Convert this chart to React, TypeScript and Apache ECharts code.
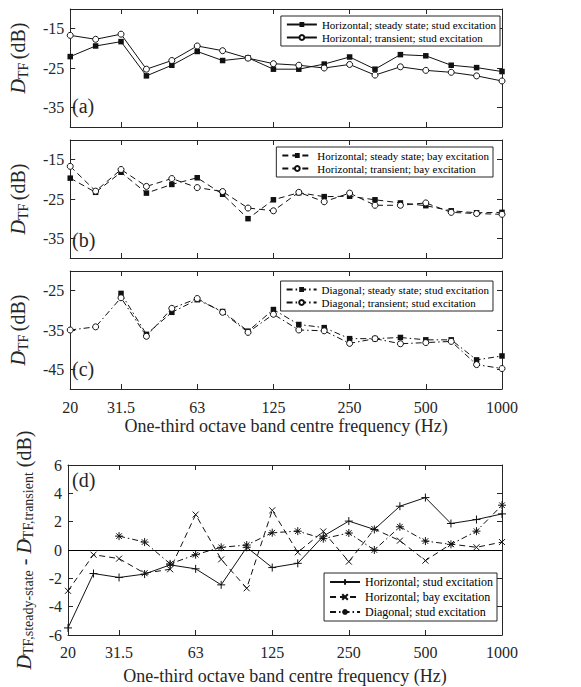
import React, { useEffect, useRef } from 'react';
import * as echarts from 'echarts';

// One-third octave band centre frequencies (Hz)
const freqs = ['20', '25', '31.5', '40', '50', '63', '80', '100', '125', '160', '200', '250', '315', '400', '500', '630', '800', '1000'];
const labelFreqs = ['20', '31.5', '63', '125', '250', '500', '1000'];

// (a) Horizontal, stud excitation
const aSteady = [-22.1, -19.4, -18.3, -27.0, -24.3, -20.8, -23.1, -22.4, -25.3, -25.3, -24.0, -22.2, -25.3, -21.6, -21.9, -24.3, -24.9, -25.9];
const aTransient = [-16.7, -17.7, -16.4, -25.3, -23.1, -19.4, -20.6, -22.5, -23.9, -24.3, -25.0, -24.1, -26.8, -24.7, -25.6, -26.1, -27.0, -28.3];

// (b) Horizontal, bay excitation
const bSteady = [-19.7, -23.3, -18.2, -23.5, -21.3, -19.6, -23.8, -30.0, -25.2, -23.4, -24.4, -24.3, -25.2, -26.0, -26.7, -28.0, -28.5, -28.4];
const bTransient = [-16.7, -23.0, -17.5, -21.8, -19.8, -22.1, -23.1, -27.3, -28.0, -23.3, -25.7, -23.5, -26.6, -26.6, -26.0, -28.4, -28.7, -28.9];

// (c) Diagonal, stud excitation
const cSteady = [null, null, -25.7, -36.1, -30.5, -27.3, -30.3, -35.3, -29.8, -33.6, -34.4, -37.2, -37.2, -36.9, -37.5, -37.5, -42.6, -41.6];
const cTransient = [-35.0, -34.2, -26.8, -36.6, -29.5, -27.0, -30.5, -35.6, -31.0, -35.0, -35.2, -38.4, -37.2, -38.5, -38.2, -37.9, -43.8, -44.8];

// (d) Differences steady-state minus transient
const dHorizStud = [-5.5, -1.66, -1.94, -1.7, -1.05, -1.33, -2.46, 0.19, -1.24, -0.94, 0.98, 2.04, 1.45, 3.09, 3.7, 1.87, 2.15, 2.55];
const dHorizBay = [-2.88, -0.33, -0.61, -1.64, -1.36, 2.5, -0.66, -2.7, 2.8, -0.16, 1.31, -0.82, 1.48, 0.66, -0.75, 0.42, 0.19, 0.56];
const dDiagStud = [null, null, 0.98, 0.56, -0.98, -0.33, 0.19, 0.35, 1.22, 1.33, 0.8, 1.2, 0.0, 1.64, 0.63, 0.4, 1.33, 3.16];

const dbTicksAB = [-35, -25, -15];
const dbTicksC = [-45, -35, -25];
const diffTicks = [-6, -4, -2, 0, 2, 4, 6];

const FONT = 'Liberation Serif';
const AX = '#262626';
const LINE = '#111';

const GRIDS = [
  { left: 68, top: 9, width: 434, height: 118 },
  { left: 68, top: 140, width: 434, height: 118 },
  { left: 68, top: 271, width: 434, height: 118 },
  { left: 68, top: 465, width: 434, height: 170 },
];

const showIdx = (i: number) => labelFreqs.includes(freqs[i]);

const XNAME = 'One-third octave band centre frequency (Hz)';

function xAxes(gi: number, showLabels: boolean, nameGap: number, margin: number) {
  const common = {
    type: 'category',
    gridIndex: gi,
    data: freqs,
    boundaryGap: false,
    axisLine: { show: true, onZero: false, lineStyle: { color: AX, width: 1 } },
    axisTick: { show: true, inside: true, length: 5, interval: (i: number) => showIdx(i), lineStyle: { color: AX } },
    splitLine: { show: false },
  };
  return [
    {
      ...common,
      position: 'bottom',
      axisLabel: {
        show: showLabels,
        interval: (i: number) => showIdx(i),
        color: AX,
        fontFamily: FONT,
        fontSize: 16,
        margin,
      },
      name: showLabels ? XNAME : '',
      nameLocation: 'middle',
      nameGap,
      nameTextStyle: { fontFamily: FONT, fontSize: 18, color: AX },
    },
    { ...common, position: 'top', axisLabel: { show: false } },
  ];
}

const richName = {
  d: { fontFamily: FONT, fontSize: 20, fontStyle: 'italic', color: AX, lineHeight: 20, padding: [0, 0, 4, 0] },
  s: { fontFamily: FONT, fontSize: 14, color: AX, lineHeight: 14, verticalAlign: 'bottom' },
  n: { fontFamily: FONT, fontSize: 20, color: AX, lineHeight: 20, padding: [0, 0, 4, 0] },
};

function yAxes(gi: number, min: number, max: number, ticks: number[], name: string, nameGap: number, shiftUp = 0) {
  const common = {
    type: 'value',
    gridIndex: gi,
    min,
    max,
    splitLine: { show: false },
    axisLine: { show: true, onZero: false, lineStyle: { color: AX, width: 1 } },
    axisTick: { show: true, inside: true, length: 5, customValues: ticks, lineStyle: { color: AX } },
  };
  return [
    {
      ...common,
      position: 'left',
      axisLabel: { customValues: ticks, color: AX, fontFamily: FONT, fontSize: 16, margin: 6 },
      name,
      nameLocation: 'middle',
      nameRotate: 90,
      nameGap,
      nameTextStyle: { rich: richName, padding: [0, 0, 0, shiftUp * 2] },
    },
    { ...common, position: 'right', axisLabel: { show: false } },
  ];
}

const SQ = { symbol: 'rect', symbolSize: 5.5, itemStyle: { color: LINE } };
const CI = { symbol: 'circle', symbolSize: 6, itemStyle: { color: '#fff', borderColor: LINE, borderWidth: 1 } };
const PLUS = 'path://M0 5L10 5M5 0L5 10';
const CROSS = 'path://M0 0L10 10M0 10L10 0';
const STAR = 'path://M0 5L10 5M5 0L5 10M1.5 1.5L8.5 8.5M1.5 8.5L8.5 1.5';
const strokeSym = { color: 'none', borderColor: LINE, borderWidth: 1 };

const DASH = [6, 4];
const DASHDOT = [6, 3, 1.5, 3];

function lineSeries(name: string, data: (number | null)[], gi: number, lineType: any, sym: any, extra: any = {}) {
  return {
    type: 'line',
    name,
    data,
    xAxisIndex: gi * 2,
    yAxisIndex: gi * 2,
    lineStyle: { color: LINE, width: 1, type: lineType },
    connectNulls: false,
    ...sym,
    ...extra,
  };
}

const legendCommon = {
  orient: 'vertical',
  backgroundColor: '#fff',
  borderColor: AX,
  borderWidth: 1,
  borderRadius: 0,
  padding: [3, 4, 3, 5],
  itemGap: 2,
  itemWidth: 30,
  itemHeight: 6,
  selectedMode: false,
  textStyle: { fontFamily: FONT, fontSize: 11, color: '#000' },
};

const N_A = ['Horizontal; steady state; stud excitation', 'Horizontal; transient; stud excitation'];
const N_B = ['Horizontal; steady state; bay excitation', 'Horizontal; transient; bay excitation'];
const N_C = ['Diagonal; steady state; stud excitation', 'Diagonal; transient; stud excitation'];
const N_D = ['Horizontal; stud excitation', 'Horizontal; bay excitation', 'Diagonal; stud excitation'];

export default function App() {
  const ref = useRef<HTMLDivElement>(null);
  useEffect(() => {
    if (!ref.current) return;
    const chart = echarts.init(ref.current, null, { renderer: 'svg' });
    const yName = '{d|D}{s|TF} {n|(dB)}';
    const yNameD = '{d|D}{s|TF,steady-state}{n| - }{d|D}{s|TF,transient}{n| (dB)}';
    const panelLabel = (text: string, top: number) => ({
      type: 'text',
      left: 72,
      top,
      style: { text, fontFamily: FONT, fontSize: 20, fill: AX },
    });
    const option: any = {
      animation: false,
      backgroundColor: '#fff',
      grid: GRIDS.map((g) => ({ ...g, show: false })),
      xAxis: [
        ...xAxes(0, false, 0, 10),
        ...xAxes(1, false, 0, 10),
        ...xAxes(2, true, 28, 10),
        ...xAxes(3, true, 32, 9),
      ],
      yAxis: [
        ...yAxes(0, -40, -10, dbTicksAB, yName, 28, 10),
        ...yAxes(1, -40, -10, dbTicksAB, yName, 28),
        ...yAxes(2, -50, -20, dbTicksC, yName, 28),
        ...yAxes(3, -6, 6, diffTicks, yNameD, 26),
      ],
      legend: [
        { ...legendCommon, data: N_A, right: 81, top: 16 },
        { ...legendCommon, data: N_B, right: 88, top: 147 },
        { ...legendCommon, data: N_C, right: 88, top: 281 },
        { ...legendCommon, data: N_D, right: 84, top: 573, itemGap: 3, itemHeight: 7, textStyle: { fontFamily: FONT, fontSize: 12, color: '#000' } },
      ],
      graphic: [
        panelLabel('(a)', 96),
        panelLabel('(b)', 230),
        panelLabel('(c)', 359),
        panelLabel('(d)', 470),
      ],
      series: [
        lineSeries(N_A[0], aSteady, 0, 'solid', SQ),
        lineSeries(N_A[1], aTransient, 0, 'solid', CI),
        lineSeries(N_B[0], bSteady, 1, DASH, SQ),
        lineSeries(N_B[1], bTransient, 1, DASH, CI),
        lineSeries(N_C[0], cSteady, 2, DASHDOT, SQ),
        lineSeries(N_C[1], cTransient, 2, DASHDOT, CI),
        lineSeries(N_D[0], dHorizStud, 3, 'solid', { symbol: PLUS, symbolSize: 8, itemStyle: strokeSym }, {
          markLine: {
            silent: true,
            symbol: ['none', 'none'],
            label: { show: false },
            lineStyle: { color: '#000', type: 'solid', width: 1 },
            data: [{ yAxis: 0 }],
          },
        }),
        lineSeries(N_D[1], dHorizBay, 3, DASH, { symbol: CROSS, symbolSize: 6, itemStyle: strokeSym }),
        lineSeries(N_D[2], dDiagStud, 3, DASHDOT, { symbol: STAR, symbolSize: 8, itemStyle: strokeSym }),
      ],
    };
    chart.setOption(option);
    return () => chart.dispose();
  }, []);
  return <div ref={ref} style={{ position: 'fixed', left: 0, top: 0, width: 581, height: 687 }} />;
}
